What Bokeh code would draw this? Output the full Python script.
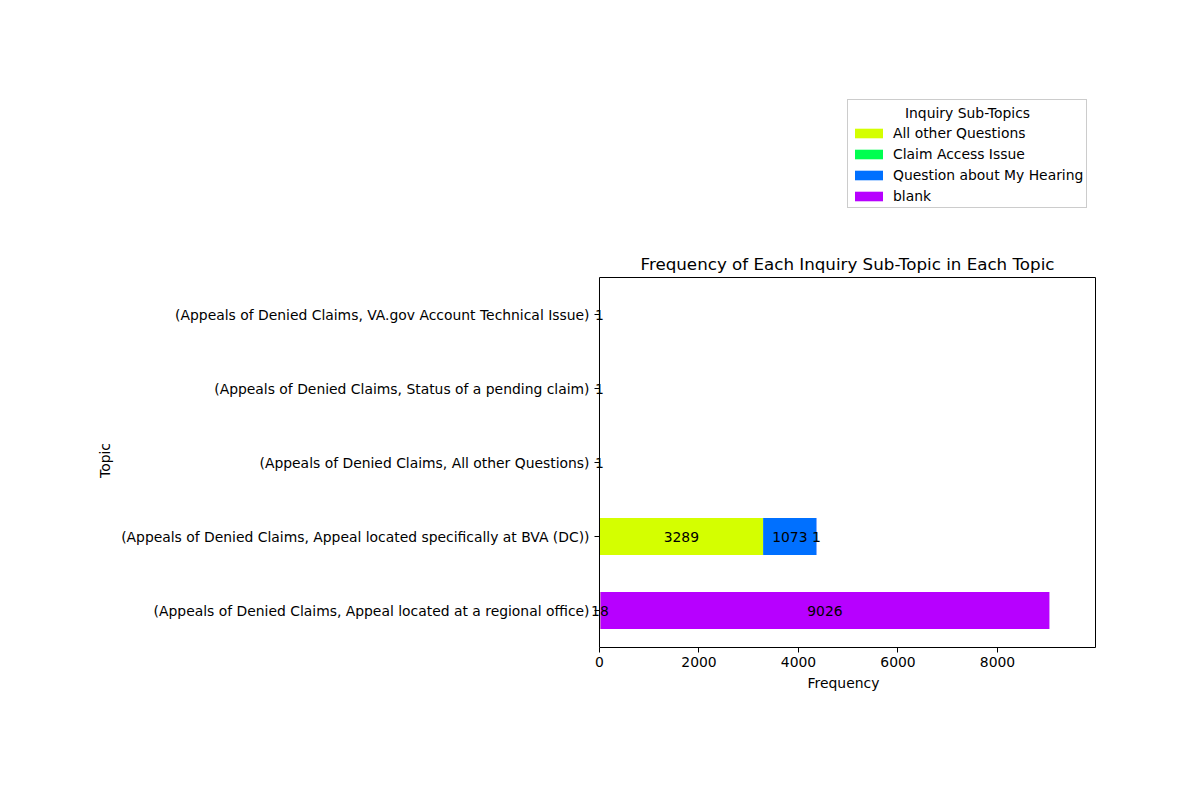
from bokeh.plotting import figure
from bokeh.models import (Range1d, FixedTicker, Legend, LegendItem, ColumnDataSource,
                          LabelSet, Label, BoxAnnotation)
from bokeh.core.properties import value
from bokeh.embed import file_html
from bokeh.resources import INLINE
import numpy as np

topics = [
    "(Appeals of Denied Claims, Appeal located at a regional office)",
    "(Appeals of Denied Claims, Appeal located specifically at BVA (DC))",
    "(Appeals of Denied Claims, All other Questions)",
    "(Appeals of Denied Claims, Status of a pending claim)",
    "(Appeals of Denied Claims, VA.gov Account Technical Issue)",
]
subtopics = ["All other Questions", "Claim Access Issue", "Question about My Hearing", "blank"]
all_other = [18, 3289, 1, 0, 0]
claim_access = [0, 0, 0, 0, 1]
hearing = [0, 1073, 0, 0, 0]
blank = [9026, 1, 0, 1, 0]
colors = ["#d4ff00", "#00ff50", "#0070ff", "#b700ff"]
x_ticks = [0, 2000, 4000, 6000, 8000]
x_max = 9970

FONT = "DejaVu Sans"
FS = "13.9px"

ypos = list(range(len(topics)))
PX_X = 398 / 8000.0        # pixels per data unit along x
PX_Y = 74.0                # pixels per category
FRAME_TOP = 90
FRAME_BOTTOM = 649

p = figure(width=1194, height=790, output_backend="svg", toolbar_location=None,
           x_range=Range1d(-10 / PX_X, x_max + 2 / PX_X),
           y_range=Range1d(-0.5 - 2 / PX_Y, 4.5 + (277 - FRAME_TOP) / PX_Y),
           min_border_left=589, min_border_right=97, min_border_top=FRAME_TOP,
           min_border_bottom=790 - FRAME_BOTTOM)
p.background_fill_color = "white"
p.border_fill_color = "white"
p.outline_line_color = None
p.grid.visible = False

series = [all_other, claim_access, hearing, blank]
left = np.zeros(len(topics))
items = []
lab_x, lab_y, lab_t = [], [], []
for name, vals, col in zip(subtopics, series, colors):
    vals = np.array(vals, dtype=float)
    right = left + vals
    src = ColumnDataSource(dict(y=ypos, left=left.copy(), right=right.copy()))
    r = p.hbar(y="y", left="left", right="right", height=0.5, source=src,
               fill_color=col, line_color=None)
    items.append(LegendItem(label=name, renderers=[r]))
    for i, v in enumerate(vals):
        if v > 0:
            lab_x.append(left[i] + v / 2)
            lab_y.append(ypos[i])
            lab_t.append(str(int(v)))
    left = right

# axes box (matplotlib spines)
p.add_layout(BoxAnnotation(left=0, right=x_max, bottom=-0.5, top=len(topics) - 0.5,
                           fill_color=None, fill_alpha=0, line_color="black",
                           line_alpha=1, line_width=1))

lab_src = ColumnDataSource(dict(x=lab_x, y=lab_y, t=lab_t))
p.add_layout(LabelSet(x="x", y="y", text="t", source=lab_src,
                      text_align="center", text_baseline="middle",
                      text_font=value(FONT), text_font_size=value(FS), text_color="black",
                      level="overlay"))

# title
p.add_layout(Label(x=x_max / 2, y=len(topics) - 0.5 + 14 / PX_Y,
                   text="Frequency of Each Inquiry Sub-Topic in Each Topic",
                   text_align="center", text_baseline="middle",
                   text_font=FONT, text_font_size="16.7px", text_color="black"))

LEG_LEFT = 847
LEG_BOTTOM = 208
legend = Legend(items=items, title="Inquiry Sub-Topics",
                location=(LEG_LEFT - 589, FRAME_BOTTOM - LEG_BOTTOM),
                title_text_font=FONT, title_text_font_size=FS, title_text_font_style="normal",
                title_text_alpha=0, title_standoff=6,
                label_text_font=FONT, label_text_font_size=FS, label_text_color="black",
                glyph_width=35, glyph_height=12, label_height=16, label_standoff=7,
                spacing=5, padding=3, margin=0, border_line_color="#cccccc",
                border_line_width=1, border_line_alpha=1,
                background_fill_color="white", background_fill_alpha=0)
p.add_layout(legend, "center")
p.add_layout(Label(x=LEG_LEFT - 589 + 120, y=FRAME_BOTTOM - 112, x_units="screen",
                   y_units="screen",
                   text="Inquiry Sub-Topics", text_align="center", text_baseline="middle",
                   text_font=FONT, text_font_size=FS, text_color="black", level="overlay"))

p.xaxis.ticker = FixedTicker(ticks=x_ticks)
p.yaxis.ticker = FixedTicker(ticks=ypos)
p.yaxis.major_label_overrides = {i: t for i, t in zip(ypos, topics)}
p.xaxis.axis_label = "Frequency"
# axis label is centred on the (taller) frame; pad with no-break spaces so that
# the visible word sits at the middle of the axes box
p.yaxis.axis_label = "Topic" + "\u00a0" * 41
for ax in (p.xaxis, p.yaxis):
    ax.axis_label_text_font = FONT
    ax.axis_label_text_font_size = FS
    ax.axis_label_text_font_style = "normal"
    ax.axis_label_text_color = "black"
    ax.major_label_text_font = FONT
    ax.major_label_text_font_size = FS
    ax.major_label_text_color = "black"
    ax.axis_line_color = None
    ax.major_tick_line_color = "black"
    ax.minor_tick_line_color = None
p.xaxis.major_tick_in = 2
p.xaxis.major_tick_out = 3
p.xaxis.major_label_standoff = 4
p.yaxis.major_tick_in = 10
p.yaxis.major_tick_out = -5
p.yaxis.major_label_standoff = 0
p.yaxis.axis_label_standoff = 5

open("out.html", "w").write(file_html(p, INLINE))
